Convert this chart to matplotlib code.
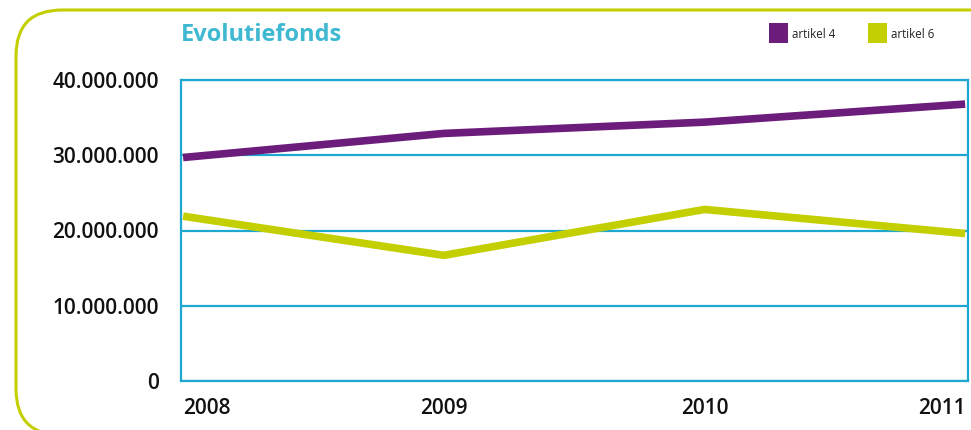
"""Evolutiefonds: artikel 4 vs artikel 6, 2008-2011."""
import matplotlib; matplotlib.use("Agg")
import matplotlib.pyplot as plt
from matplotlib.patches import FancyBboxPatch, Rectangle

plt.rcParams.update({"font.family": ["Open Sans", "DejaVu Sans"]})

years = [2008, 2009, 2010, 2011]
artikel4 = [29.7e6, 32.9e6, 34.4e6, 36.8e6]
artikel6 = [21.9e6, 16.7e6, 22.8e6, 19.6e6]
yticks = [0, 10e6, 20e6, 30e6, 40e6]
ylabels = ["0", "10.000.000", "20.000.000", "30.000.000", "40.000.000"]

PURPLE = "#6c1d7c"; LIME = "#c3cf00"; BLUE = "#1fa8cf"; TITLE = "#3fb8d2"

W, H = 971, 430
fig = plt.figure(figsize=(W/100, H/100), dpi=100)

# background layer in pixel units for the rounded lime frame and legend
bg = fig.add_axes([0, 0, 1, 1], zorder=0)
bg.set_xlim(0, W); bg.set_ylim(H, 0); bg.axis("off")
# filled white so Agg does not clip the open curve at the canvas edge
bg.add_patch(FancyBboxPatch((16, 10), 1200, 425, boxstyle="round,pad=0,rounding_size=46",
                            fc="white", ec=LIME, lw=2.2, clip_on=False, zorder=0))
for x0, col, lab in [(769, PURPLE, "artikel 4"), (868, LIME, "artikel 6")]:
    bg.add_patch(Rectangle((x0, 23), 19, 20, color=col, lw=0))
    bg.text(x0 + 23, 34, lab, fontsize=8.3, color="#222222", va="center")
bg.text(181, 35, "Evolutiefonds", color=TITLE, fontsize=17, fontweight="bold", va="center")

ax = fig.add_axes([181/W, 1-381/H, (968-181)/W, (381-80)/H], zorder=1)
ax.patch.set_alpha(0)
ax.plot(years, artikel4, color=PURPLE, lw=5.5, solid_capstyle="butt", zorder=3)
ax.plot(years, artikel6, color=LIME, lw=5.5, solid_capstyle="butt", zorder=3)

ax.set_xlim(2008 - 0.008, 2011 + 0.011)
ax.set_ylim(0, 40e6)
ax.set_yticks(yticks)
ax.set_yticklabels(ylabels, fontsize=15, fontweight="semibold", color="#111111")
ax.set_xticks(years)
ax.set_xticklabels([str(y) for y in years], fontsize=15, fontweight="semibold", color="#111111")
xl = ax.get_xticklabels()
xl[0].set_ha("left"); xl[-1].set_ha("right")
ax.tick_params(length=0, pad=16, axis="y")
ax.tick_params(length=0, pad=12, axis="x")
for s in ax.spines.values():
    s.set_color(BLUE); s.set_linewidth(1.6)
ax.grid(axis="y", color=BLUE, lw=1.6, zorder=1)
ax.set_axisbelow(True)

fig.savefig("out.png", dpi=100)
